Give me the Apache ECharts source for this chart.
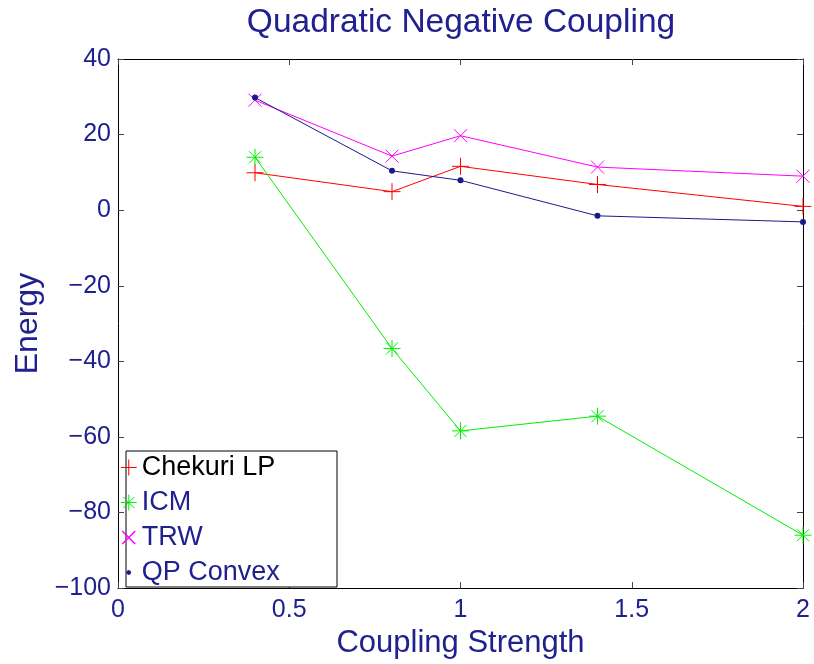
<!DOCTYPE html>
<html>
<head>
<meta charset="utf-8">
<script src="https://cdn.jsdelivr.net/npm/echarts@6/dist/echarts.min.js"></script>
<style>
  html, body { margin: 0; padding: 0; background: #fff; }
  #main { width: 814px; height: 664px; }
</style>
</head>
<body>
<div id="main"></div>
<script>
// data
const couplingStrength = [0.4, 0.8, 1, 1.4, 2]
const chekuriLP = [9.9, 4.9, 11.6, 6.8, 1.0]
const icm = [14.0, -36.6, -58.4, -54.5, -86.0]
const trw = [29.1, 14.3, 19.7, 11.4, 9.0]
const qpConvex = [29.8, 10.4, 7.9, -1.5, -3.1]

const xTicks = [0, 0.5, 1, 1.5, 2]
const yTicks = [-100, -80, -60, -40, -20, 0, 20, 40]

const navy = '#20208f'
const font = 'Liberation Sans, Arial, Helvetica, sans-serif'

const red = '#ff0000'
const green = '#00f000'
const magenta = '#ff00ff'
const dotBlue = '#1a1a8c'

// marker shapes (matlab style, drawn as strokes)
const plusPath = 'path://M0,8 L16,8 M8,0 L8,16'
const starPath = 'path://M8,0 L8,16 M0,8 L16,8 M2.3,2.3 L13.7,13.7 M13.7,2.3 L2.3,13.7'
const crossPath = 'path://M0,0 L10,10 M10,0 L0,10'
// legend versions, padded with empty moves so they keep a smaller size in the icon box
const crossLegend = 'path://M0,0 M16,16 M1.5,1.5 L14.5,14.5 M14.5,1.5 L1.5,14.5'
const dotLegend = 'path://M0,0 M16,16 M8,5.6 L9.7,6.3 L10.4,8 L9.7,9.7 L8,10.4 L6.3,9.7 L5.6,8 L6.3,6.3 Z'

function pairs(ys) {
    return couplingStrength.map((x, i) => [x, ys[i]])
}

function lineSeries(name, ys, color, symbol, size, fill) {
    return {
        name: name,
        type: 'line',
        data: pairs(ys),
        color: color,
        symbol: symbol,
        symbolSize: size,
        showAllSymbol: true,
        clip: false,
        lineStyle: { color: color, width: 1 },
        itemStyle: { color: color, borderColor: color, borderWidth: fill ? 0 : 1 },
        emphasis: { disabled: true },
        z: 3
    }
}

function legendItem(name, icon, color, width, textColor) {
    const item = {
        name: name,
        icon: icon,
        itemStyle: { color: color, borderColor: color, borderWidth: width, opacity: 1 }
    }
    if (textColor) item.textStyle = { color: textColor }
    return item
}

const axisCommon = {
    type: 'value',
    splitLine: { show: false },
    axisLine: { show: true, onZero: false, lineStyle: { color: '#000', width: 1 } },
    axisTick: { show: true, inside: true, length: 6, lineStyle: { color: '#444' } }
}

const chart = echarts.init(document.getElementById('main'))

chart.setOption({
    backgroundColor: '#fff',
    animation: false,
    color: [red, green, magenta, dotBlue],
    title: {
        text: 'Quadratic Negative Coupling',
        left: 461,
        textAlign: 'center',
        top: 6,
        padding: 0,
        textStyle: { color: navy, fontFamily: font, fontSize: 33.5, fontWeight: 'normal' }
    },
    grid: { left: 118, right: 11, top: 59, bottom: 70, containLabel: false },
    xAxis: [
        Object.assign({}, axisCommon, {
            position: 'bottom',
            min: xTicks[0], max: xTicks[xTicks.length - 1], interval: 0.5,
            name: 'Coupling Strength',
            nameLocation: 'middle',
            nameGap: 35,
            nameTextStyle: { color: navy, fontFamily: font, fontSize: 31, verticalAlign: 'top' },
            axisLabel: { color: navy, fontFamily: font, fontSize: 25, margin: 10 }
        }),
        Object.assign({}, axisCommon, {
            position: 'top',
            min: xTicks[0], max: xTicks[xTicks.length - 1], interval: 0.5,
            axisLabel: { show: false }
        })
    ],
    yAxis: [
        Object.assign({}, axisCommon, {
            position: 'left',
            min: yTicks[0], max: yTicks[yTicks.length - 1], interval: 20,
            name: 'Energy',
            nameLocation: 'middle',
            nameGap: 74,
            nameTextStyle: { color: navy, fontFamily: font, fontSize: 32 },
            axisLabel: {
                color: navy, fontFamily: font, fontSize: 25, margin: 7,
                padding: [4, 0, 0, 0],
                formatter: v => String(v).replace('-', '\u2212')
            }
        }),
        Object.assign({}, axisCommon, {
            position: 'right',
            min: yTicks[0], max: yTicks[yTicks.length - 1], interval: 20,
            axisLabel: { show: false }
        })
    ],
    legend: {
        orient: 'vertical',
        left: 120,
        top: 454,
        padding: 0,
        itemWidth: 16,
        itemHeight: 16,
        itemGap: 8,
        z: 10,
        selectedMode: false,
        textStyle: { fontFamily: font, fontSize: 27, lineHeight: 27, color: navy },
        data: [
            legendItem('Chekuri LP', plusPath, red, 1, '#000'),
            legendItem('ICM', starPath, green, 1),
            legendItem('TRW', crossLegend, magenta, 1.5),
            legendItem('QP Convex', dotLegend, dotBlue, 0)
        ]
    },
    graphic: [{
        type: 'rect',
        z: 5,
        shape: { x: 126, y: 451, width: 211, height: 136 },
        style: { fill: '#fff', stroke: '#000', lineWidth: 1 }
    }],
    series: [
        lineSeries('Chekuri LP', chekuriLP, red, plusPath, 17, false),
        lineSeries('ICM', icm, green, starPath, 17, false),
        lineSeries('TRW', trw, magenta, crossPath, 13, false),
        lineSeries('QP Convex', qpConvex, dotBlue, 'circle', 6, true)
    ]
})
</script>
</body>
</html>
